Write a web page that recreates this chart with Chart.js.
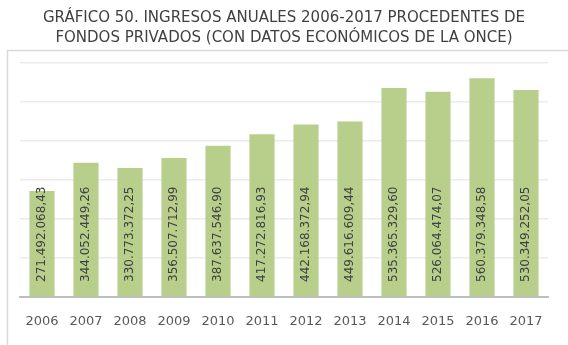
<!DOCTYPE html>
<html>
<head>
<meta charset="utf-8">
<script src="https://cdn.jsdelivr.net/npm/chart.js@4/dist/chart.umd.min.js"></script>
<style>
  html, body { margin: 0; padding: 0; background: #ffffff; }
  #wrap { width: 568px; height: 345px; position: relative; }
</style>
</head>
<body>
<div id="wrap"><canvas id="c" width="568" height="345"></canvas></div>
<script>
// Años y ingresos anuales (euros)
const years = ['2006','2007','2008','2009','2010','2011','2012','2013','2014','2015','2016','2017'];
const ingresos = [271492068.43, 344052449.26, 330773372.25, 356507712.99, 387637546.90, 417272816.93,
                  442168372.94, 449616609.44, 535365329.60, 526064474.07, 560379348.58, 530349252.05];
const valueLabels = ['271.492.068,43','344.052.449,26','330.773.372,25','356.507.712,99','387.637.546,90','417.272.816,93',
                     '442.168.372,94','449.616.609,44','535.365.329,60','526.064.474,07','560.379.348,58','530.349.252,05'];
const titleLines = ['GRÁFICO 50. INGRESOS ANUALES 2006-2017 PROCEDENTES DE',
                    'FONDOS PRIVADOS (CON DATOS ECONÓMICOS DE LA ONCE)'];

// Marco gris claro alrededor del área del gráfico
const framePlugin = {
  id: 'frame',
  beforeDraw(chart) {
    const ctx = chart.ctx;
    ctx.save();
    ctx.strokeStyle = '#d9d9d9';
    ctx.lineWidth = 1.5;
    ctx.strokeRect(7.5, 50.5, 700, 400);
    ctx.restore();
  }
};

// Etiquetas de valor verticales dentro de cada barra
const barLabels = {
  id: 'barLabels',
  afterDatasetsDraw(chart) {
    const ctx = chart.ctx;
    const meta = chart.getDatasetMeta(0);
    const base = chart.scales.y.getPixelForValue(0);
    ctx.save();
    ctx.font = '12px "DejaVu Sans"';
    ctx.fillStyle = '#404040';
    ctx.textAlign = 'left';
    ctx.textBaseline = 'middle';
    meta.data.forEach((bar, i) => {
      ctx.save();
      ctx.translate(bar.x, base - 15);
      ctx.rotate(-Math.PI / 2);
      ctx.fillText(valueLabels[i], 0, 0);
      ctx.restore();
    });
    ctx.restore();
  }
};

new Chart(document.getElementById('c'), {
  type: 'bar',
  data: {
    labels: years,
    datasets: [{
      data: ingresos,
      backgroundColor: '#b8ce8b',
      borderWidth: 0,
      categoryPercentage: 1.0,
      barPercentage: 0.571
    }]
  },
  options: {
    responsive: false,
    animation: false,
    layout: { padding: { left: 20, right: 20, bottom: 0, top: 0 } },
    plugins: {
      legend: { display: false },
      tooltip: { enabled: false },
      title: {
        display: true,
        text: titleLines,
        color: '#404040',
        font: { family: 'DejaVu Sans', size: 15, weight: 'normal', lineHeight: 1.33 },
        padding: { top: 8, bottom: 15 }
      }
    },
    scales: {
      x: {
        grid: { display: false, drawTicks: false },
        border: { color: '#bfbfbf', width: 2 },
        ticks: { color: '#595959', font: { family: 'DejaVu Sans', size: 13 }, padding: 17, maxRotation: 0 },
        afterFit(scale) { scale.height = 48; }
      },
      y: {
        min: 0,
        max: 600000000,
        ticks: { display: false, stepSize: 100000000 },
        grid: { color: '#ebebeb', lineWidth: 1.5, drawTicks: false },
        border: { display: false },
        afterFit(scale) { scale.width = 0; }
      }
    }
  },
  plugins: [framePlugin, barLabels]
});
</script>
</body>
</html>
